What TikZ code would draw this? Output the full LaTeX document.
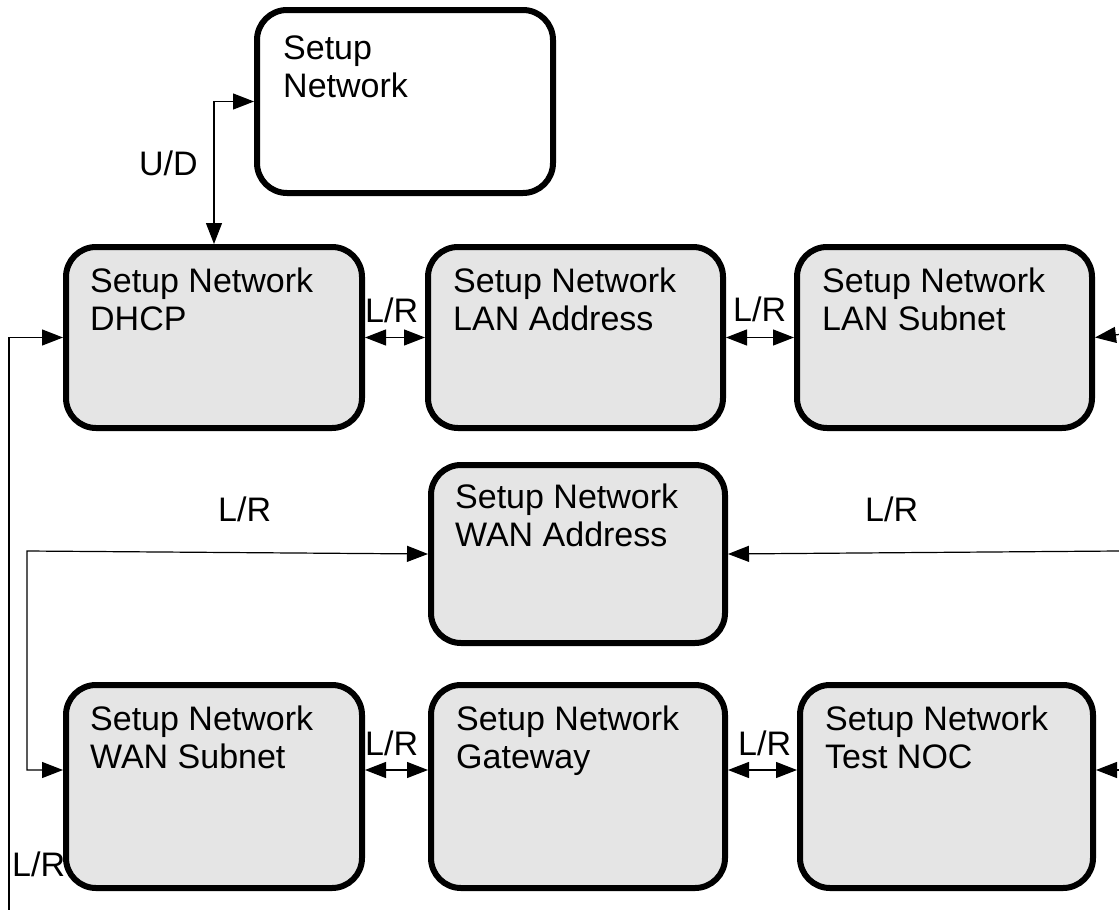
\documentclass[tikz,border=0pt]{standalone}
\usepackage{fontspec}
\setmainfont{Liberation Sans}
\usetikzlibrary{arrows.meta,calc}
\definecolor{boxgray}{HTML}{E5E5E5}
\begin{document}
\begin{tikzpicture}[x=1pt,y=-1pt,
  >={Triangle[length=21pt,width=16pt]},
  box/.style={draw=black, line width=6pt, rounded corners=30pt, fill=boxgray, anchor=north west, inner sep=0pt},
  boxsz/.style 2 args={minimum width=#1pt, minimum height=#2pt},
  conn/.style={line width=1.2pt, draw=black},
  txt/.style={font=\fontsize{34}{38}\selectfont, inner sep=0pt, anchor=north west, align=left},
  lbl/.style={font=\fontsize{34}{38}\selectfont, inner sep=0pt, anchor=base west}]
\useasboundingbox (0,0) rectangle (1119,910);

% boxes
\node[box, fill=white, boxsz={296}{183}] (top) at (254,7) {};
\node[box, boxsz={296}{181}] (dhcp) at (63,244) {};
\node[box, boxsz={295}{181}] (lanaddr) at (425,244) {};
\node[box, boxsz={295}{181}] (lansub) at (794,244) {};
\node[box, boxsz={294}{178}] (wanaddr) at (428,462) {};
\node[box, boxsz={296}{203}] (wansub) at (63,682) {};
\node[box, boxsz={294}{203}] (gateway) at (428,682) {};
\node[box, boxsz={293}{203}] (testnoc) at (797,682) {};

% box texts
\node[txt] (ttop) at ($(top.north west)+(29,29)$) {Setup\\Network};
\node[txt] (tdhcp) at ($(dhcp.north west)+(27,24)$) {Setup Network\\DHCP};
\node[txt] (tlanaddr) at ($(lanaddr.north west)+(28,24)$) {Setup Network\\LAN Address};
\node[txt] (tlansub) at ($(lansub.north west)+(28,24)$) {Setup Network\\LAN Subnet};
\node[txt] (twanaddr) at ($(wanaddr.north west)+(27,22)$) {Setup Network\\WAN Address};
\node[txt] (twansub) at ($(wansub.north west)+(27,24)$) {Setup Network\\WAN Subnet};
\node[txt] (tgateway) at ($(gateway.north west)+(28,24)$) {Setup Network\\Gateway};
\node[txt] (ttestnoc) at ($(testnoc.north west)+(28,24)$) {Setup Network\\Test NOC};

% free ends
\coordinate (r1) at (1119,334.5);
\coordinate (r2) at (1119,551);
\coordinate (r3) at (1119,770);
\coordinate (lb) at (9,910);
\coordinate (wl) at (27,551);

% connectors
\draw[conn,<->] (dhcp.north) |- (top.west);
\draw[conn,<->] (dhcp.east) -- (lanaddr.west);
\draw[conn,<->] (lanaddr.east) -- (lansub.west);
\draw[conn,->] (r1) -- (lansub.east);
\draw[conn,->] (lb) |- (dhcp.west);
\draw[conn,<->] (wanaddr.west) -- (wl) |- (wansub.west |- r3);
\draw[conn,->] (r2) -- (wanaddr.east);
\draw[conn,<->] (wansub.east |- r3) -- (gateway.west |- r3);
\draw[conn,<->] (gateway.east |- r3) -- (testnoc.west |- r3);
\draw[conn,->] (r3) -- (testnoc.east |- r3);

% labels
\node[lbl] (lud) at (139,175) {U/D};
\node[lbl] (l1) at (365,322) {L/R};
\node[lbl] (l2) at (733,321) {L/R};
\node[lbl] (l3) at (365,755) {L/R};
\node[lbl] (l4) at (738,755) {L/R};
\node[lbl] (l5) at (218,521) {L/R};
\node[lbl] (l6) at (865,521) {L/R};
\node[lbl] (l7) at (12,876) {L/R};
\end{tikzpicture}
\end{document}
